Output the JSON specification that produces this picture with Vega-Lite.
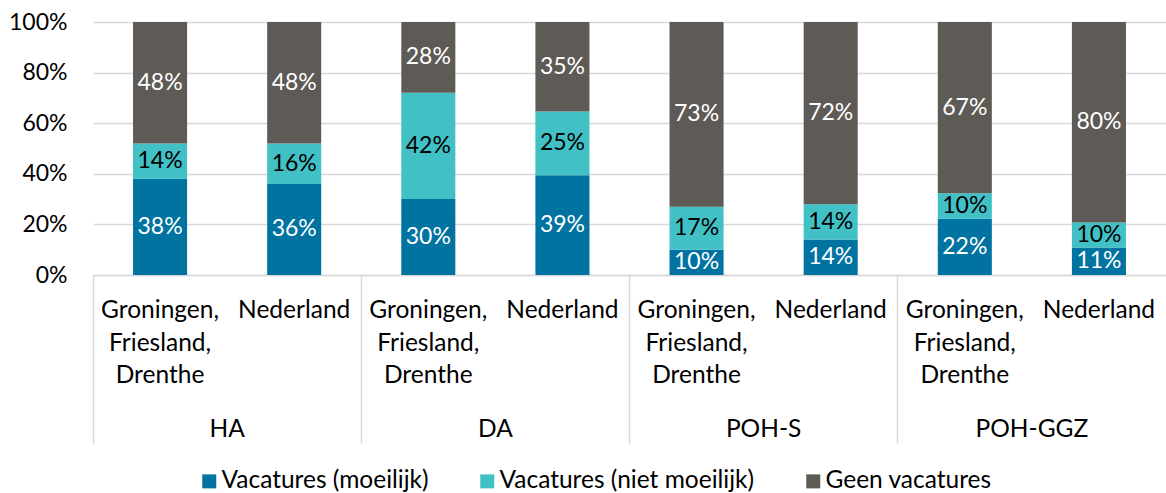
{
  "$schema": "https://vega.github.io/schema/vega-lite/v6.json",
  "width": 1073,
  "height": 253,
  "autosize": {"type": "none"},
  "padding": {"left": 93, "top": 22, "right": 0, "bottom": 218},
  "background": "white",
  "config": {
    "view": {"stroke": null},
    "font": "Lato",
    "axis": {"labelFont": "Lato", "labelColor": "#000000", "title": null},
    "legend": {"labelFont": "Lato"}
  },
  "data": {
    "values": [
      {"group": "HA", "key": "HA|G", "s": "Vacatures (moeilijk)", "k": 1, "v": 0.38},
      {"group": "HA", "key": "HA|G", "s": "Vacatures (niet moeilijk)", "k": 2, "v": 0.14},
      {"group": "HA", "key": "HA|G", "s": "Geen vacatures", "k": 3, "v": 0.48},
      {"group": "HA", "key": "HA|N", "s": "Vacatures (moeilijk)", "k": 1, "v": 0.36},
      {"group": "HA", "key": "HA|N", "s": "Vacatures (niet moeilijk)", "k": 2, "v": 0.16},
      {"group": "HA", "key": "HA|N", "s": "Geen vacatures", "k": 3, "v": 0.48},
      {"group": "DA", "key": "DA|G", "s": "Vacatures (moeilijk)", "k": 1, "v": 0.30},
      {"group": "DA", "key": "DA|G", "s": "Vacatures (niet moeilijk)", "k": 2, "v": 0.42},
      {"group": "DA", "key": "DA|G", "s": "Geen vacatures", "k": 3, "v": 0.28},
      {"group": "DA", "key": "DA|N", "s": "Vacatures (moeilijk)", "k": 1, "v": 0.39},
      {"group": "DA", "key": "DA|N", "s": "Vacatures (niet moeilijk)", "k": 2, "v": 0.25},
      {"group": "DA", "key": "DA|N", "s": "Geen vacatures", "k": 3, "v": 0.35},
      {"group": "POH-S", "key": "POH-S|G", "s": "Vacatures (moeilijk)", "k": 1, "v": 0.10},
      {"group": "POH-S", "key": "POH-S|G", "s": "Vacatures (niet moeilijk)", "k": 2, "v": 0.17},
      {"group": "POH-S", "key": "POH-S|G", "s": "Geen vacatures", "k": 3, "v": 0.73},
      {"group": "POH-S", "key": "POH-S|N", "s": "Vacatures (moeilijk)", "k": 1, "v": 0.14},
      {"group": "POH-S", "key": "POH-S|N", "s": "Vacatures (niet moeilijk)", "k": 2, "v": 0.14},
      {"group": "POH-S", "key": "POH-S|N", "s": "Geen vacatures", "k": 3, "v": 0.72},
      {"group": "POH-GGZ", "key": "POH-GGZ|G", "s": "Vacatures (moeilijk)", "k": 1, "v": 0.22},
      {"group": "POH-GGZ", "key": "POH-GGZ|G", "s": "Vacatures (niet moeilijk)", "k": 2, "v": 0.10},
      {"group": "POH-GGZ", "key": "POH-GGZ|G", "s": "Geen vacatures", "k": 3, "v": 0.67},
      {"group": "POH-GGZ", "key": "POH-GGZ|N", "s": "Vacatures (moeilijk)", "k": 1, "v": 0.11},
      {"group": "POH-GGZ", "key": "POH-GGZ|N", "s": "Vacatures (niet moeilijk)", "k": 2, "v": 0.10},
      {"group": "POH-GGZ", "key": "POH-GGZ|N", "s": "Geen vacatures", "k": 3, "v": 0.80}
    ]
  },
  "layer": [
    {
      "layer": [
        {
          "mark": {"type": "bar"},
          "encoding": {
            "x": {
              "field": "key", "type": "nominal", "sort": null,
              "scale": {"type": "band", "paddingInner": 0.597, "paddingOuter": 0.2985},
              "axis": {
                "orient": "bottom",
                "domain": false, "ticks": false, "grid": false, "labelAngle": 0,
                "labelFontSize": 24.5, "labelPadding": 23.5, "labelLineHeight": 32.5,
                "labelOverlap": false, "labelLimit": 300,
                "labelExpr": "indexof(datum.value, '|G') >= 0 ? ['Groningen,', 'Friesland,', 'Drenthe'] : 'Nederland'"
              }
            },
            "y": {
              "field": "v", "type": "quantitative", "stack": "normalize",
              "scale": {"domain": [0, 1]},
              "axis": {
                "values": [0, 0.2, 0.4, 0.6, 0.8, 1], "format": ".0%",
                "domain": false, "ticks": false, "grid": true,
                "gridColor": "#d9d9d9", "gridWidth": 1.5,
                "labelFontSize": 23, "labelPadding": 26
              }
            },
            "color": {
              "field": "s", "type": "nominal",
              "scale": {
                "domain": ["Vacatures (moeilijk)", "Vacatures (niet moeilijk)", "Geen vacatures"],
                "range": ["#0073A0", "#41C1C6", "#5E5A56"]
              },
              "legend": {
                "orient": "none", "legendX": 104, "legendY": 447,
                "direction": "horizontal", "title": null,
                "symbolType": "square", "symbolSize": 196, "symbolStrokeWidth": 0,
                "labelFontSize": 24.5, "labelOffset": 0, "columnPadding": 46,
                "padding": 0, "labelColor": "#000000", "labelLimit": 400
              }
            },
            "order": {"field": "k", "type": "quantitative"}
          }
        },
        {
          "mark": {"type": "text", "font": "Lato", "fontSize": 23, "baseline": "middle", "align": "center"},
          "encoding": {
            "x": {"field": "key", "type": "nominal", "sort": null},
            "y": {"field": "v", "type": "quantitative", "stack": "normalize", "bandPosition": 0.5},
            "detail": {"field": "s", "type": "nominal"},
            "order": {"field": "k", "type": "quantitative"},
            "text": {"field": "v", "type": "quantitative", "format": ".0%"},
            "color": {
              "condition": {"test": "datum.s === 'Vacatures (niet moeilijk)'", "value": "#000000"},
              "value": "#ffffff"
            }
          }
        }
      ]
    },
    {
      "mark": {"type": "rule", "strokeOpacity": 0},
      "encoding": {
        "x": {
          "field": "group", "type": "nominal", "sort": null,
          "scale": {"type": "band", "paddingInner": 0, "paddingOuter": 0},
          "axis": {
            "orient": "bottom",
            "domain": true, "domainColor": "#d9d9d9", "domainWidth": 1.5,
            "ticks": true, "tickColor": "#d9d9d9", "tickWidth": 1.5, "tickSize": 168,
            "bandPosition": 0, "labelOffset": 0, "labelPadding": -25.5,
            "grid": false, "labelAngle": 0, "labelFontSize": 24.5
          }
        }
      }
    }
  ],
  "resolve": {"scale": {"x": "independent"}, "axis": {"x": "independent"}}
}
